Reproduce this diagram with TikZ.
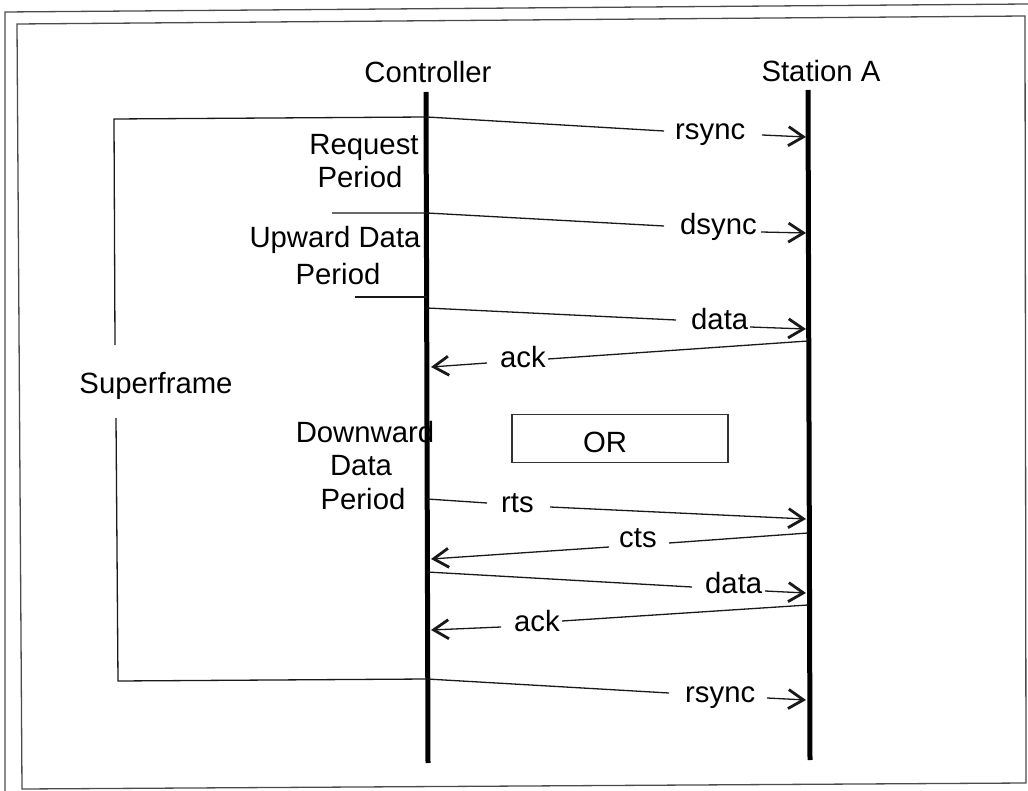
\documentclass[tikz,border=0pt]{standalone}
\usepackage{fontspec}
\setmainfont{Liberation Sans}
\usetikzlibrary{arrows.meta}
\begin{document}
\begin{tikzpicture}[x=1pt,y=-1pt,
  lbl/.style={inner sep=0pt, font=\fontsize{29.3}{34}\selectfont},
  msg/.style={line width=1.3pt, draw=black!90},
  tipped/.style={-{Straight Barb[length=15pt,width=19pt,line width=2.8pt]}},
  life/.style={line width=5pt},
  frame/.style={line width=1.3pt, draw=black!70}]
\useasboundingbox (0,0) rectangle (1028,791);

% page borders
\draw[frame] (5,791) -- (5,12) -- (1028,4);
\draw[frame] (17,24) -- (1025,16) -- (1026,783) -- (22,789) -- cycle;

% participant names
\node[lbl, anchor=base] (ctl) at (428,83) {Controller};
\node[lbl, anchor=base] (sta) at (821,82) {Station A};

% period labels
\node[lbl, anchor=base] (req)  at (364,155) {Request};
\node[lbl, anchor=base] (reqp) at (360,188) {Period};
\node[lbl, anchor=base] (up)   at (335,248) {Upward Data};
\node[lbl, anchor=base] (upp)  at (338,285) {Period};
\node[lbl, anchor=base] (sf)   at (156,394) {Superframe};
\node[lbl, anchor=base] (dn)   at (365,442) {Downward};
\node[lbl, anchor=base] (dnd)  at (361,475) {Data};
\node[lbl, anchor=base] (dnp)  at (363,509) {Period};

% alternative marker
\node[draw, line width=1.2pt, draw=black!80, minimum width=216pt, minimum height=48pt, inner sep=0pt] (orbox) at (620,438.5) {};
\node[lbl, anchor=base] (ortxt) at (605,452) {OR};

% lifelines
\coordinate (ctop) at (426,92);
\coordinate (cbot) at (428,763);
\coordinate (stop) at (808,90);
\coordinate (sbot) at (810,760);
\draw[life] (ctop) -- (cbot);
\draw[life] (stop) -- (sbot);

% message labels
\node[lbl, anchor=base west] (rs1) at (675,140) {rsync};
\node[lbl, anchor=base west] (ds)  at (680,235) {dsync};
\node[lbl, anchor=base west] (d1)  at (691,330) {data};
\node[lbl, anchor=base west] (a1)  at (500,368) {ack};
\node[lbl, anchor=base west] (rts) at (501,512) {rts};
\node[lbl, anchor=base west] (cts) at (619,547) {cts};
\node[lbl, anchor=base west] (d2)  at (705,593) {data};
\node[lbl, anchor=base west] (a2)  at (514,631) {ack};
\node[lbl, anchor=base west] (rs2) at (685,702) {rsync};

% superframe bracket
\coordinate (sfg1) at (115,345);
\coordinate (sft)  at (114,119);
\coordinate (sfg2) at (116,418);
\coordinate (sfb)  at (118,681);

% rsync (start of superframe)
\coordinate (r1c) at (427,117);
\coordinate (r1m) at (664,131);
\coordinate (r1a) at (762,135);
\coordinate (r1s) at (806,137);
\draw[msg] (sfg1) -- (sft) -- (r1c) -- (r1m);
\draw[msg, tipped] (r1a) -- (r1s);

% dsync
\coordinate (dsl) at (332,213);
\coordinate (dsc) at (427,213);
\coordinate (dsm) at (664,226);
\coordinate (dsa) at (761,232);
\coordinate (dss) at (806,233);
\draw[msg] (dsl) -- (dsc) -- (dsm);
\draw[msg, tipped] (dsa) -- (dss);

% end of upward data period
\coordinate (upl) at (355,297);
\coordinate (upc) at (427,297);
\draw[msg] (upl) -- (upc);

% upward data
\coordinate (d1c) at (427,308);
\coordinate (d1m) at (676,320);
\coordinate (d1a) at (750,327);
\coordinate (d1s) at (806,329);
\draw[msg] (d1c) -- (d1m);
\draw[msg, tipped] (d1a) -- (d1s);

% ack
\coordinate (a1s) at (808,341);
\coordinate (a1m) at (548,359);
\coordinate (a1a) at (487,363);
\coordinate (a1c) at (431,367);
\draw[msg] (a1s) -- (a1m);
\draw[msg, tipped] (a1a) -- (a1c);

% rts
\coordinate (rtc) at (427,499);
\coordinate (rtm) at (487,503);
\coordinate (rta) at (550,507);
\coordinate (rts2) at (806,519);
\draw[msg] (rtc) -- (rtm);
\draw[msg, tipped] (rta) -- (rts2);

% cts
\coordinate (cts1) at (808,533);
\coordinate (ctm) at (669,543);
\coordinate (cta) at (609,547);
\coordinate (ctc) at (431,559);
\draw[msg] (cts1) -- (ctm);
\draw[msg, tipped] (cta) -- (ctc);

% downward data
\coordinate (d2c) at (427,572);
\coordinate (d2m) at (692,587);
\coordinate (d2a) at (765,591);
\coordinate (d2s) at (806,593);
\draw[msg] (d2c) -- (d2m);
\draw[msg, tipped] (d2a) -- (d2s);

% ack
\coordinate (a2s) at (808,605);
\coordinate (a2m) at (562,621);
\coordinate (a2a) at (501,627);
\coordinate (a2c) at (431,630);
\draw[msg] (a2s) -- (a2m);
\draw[msg, tipped] (a2a) -- (a2c);

% rsync (next superframe)
\coordinate (r2c) at (427,679);
\coordinate (r2m) at (669,693);
\coordinate (r2a) at (767,698);
\coordinate (r2s) at (806,700);
\draw[msg] (sfg2) -- (sfb) -- (r2c) -- (r2m);
\draw[msg, tipped] (r2a) -- (r2s);
\end{tikzpicture}
\end{document}
